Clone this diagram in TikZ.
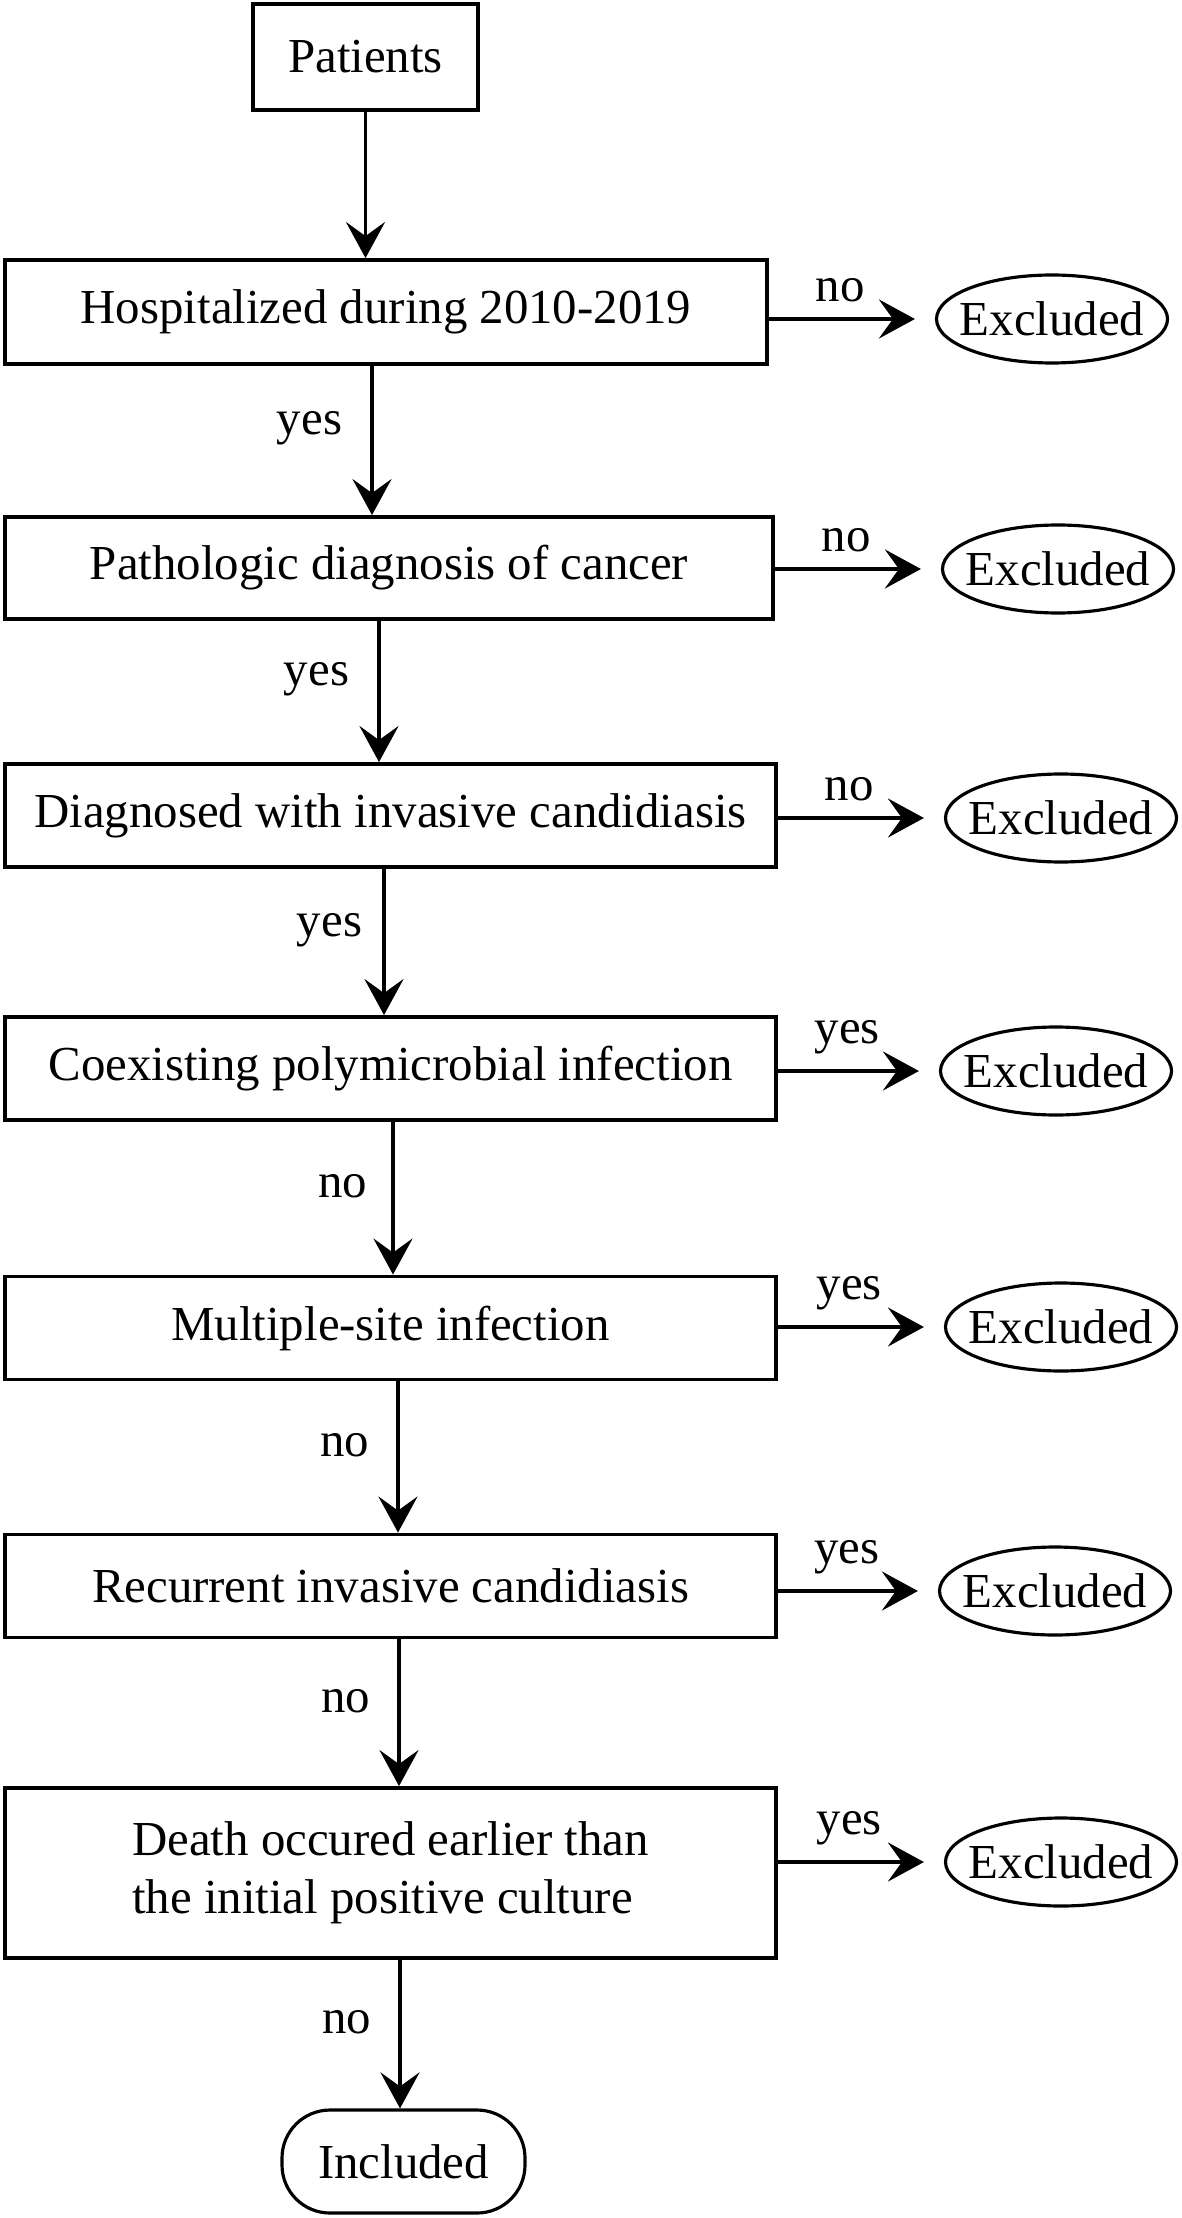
\documentclass[tikz,border=0pt]{standalone}
\usepackage{fontspec}
\setmainfont{Liberation Serif}
\usetikzlibrary{arrows.meta}
\usetikzlibrary{positioning}
\usetikzlibrary{shapes}
\tikzset{
  every node/.style={font=\fontsize{13.9}{16.5}\selectfont},
  stepbox/.style={draw, line width=1.1pt, minimum width=7.71cm, minimum height=1.03cm, inner sep=0, align=left},
  excl/.style={draw, ellipse, line width=0.9pt, minimum width=2.31cm, minimum height=0.88cm, inner xsep=-1.1mm, inner ysep=0},
  arrow/.style={-{Stealth[length=3.6mm, width=3.9mm, inset=1.4mm]}, line width=1.1pt},
  side/.style={arrow, shorten >=2mm},
  lbl/.style={inner sep=0, yshift=1.2mm},
  toplbl/.style={inner sep=0, above=1.5mm, pos=0.43}
}

\begin{document}
\begin{tikzpicture}
  \useasboundingbox (0,0) rectangle (11.81,-22.18);

  % main column
  \node[stepbox, minimum width=2.25cm, minimum height=1.06cm] (patients) at (3.655,-0.57) {Patients};
  \node[stepbox, minimum width=7.62cm, minimum height=1.04cm] (hosp) at (3.86,-3.12) {Hospitalized during 2010-2019};
  \node[stepbox, minimum width=7.68cm, minimum height=1.02cm] (patho) at (3.89,-5.68) {Pathologic diagnosis of cancer};
  \node[stepbox] (diag) at (3.905,-8.155) {Diagnosed with invasive candidiasis};
  \node[stepbox] (coex) at (3.905,-10.685) {Coexisting polymicrobial infection};
  \node[stepbox] (multi) at (3.905,-13.28) {Multiple-site infection};
  \node[stepbox] (recur) at (3.905,-15.86) {Recurrent invasive candidiasis};
  \node[stepbox, minimum height=1.70cm] (death) at (3.905,-18.73) {Death occured earlier than\\the initial positive culture};
  \node[draw, rounded corners=0.48cm, line width=0.9pt, minimum width=2.43cm, minimum height=1.03cm] (incl) at (4.035,-21.615) {Included};

  % excluded
  \node[excl] (ex1) at (10.52,-3.19) {Excluded};
  \node[excl] (ex2) at (10.58,-5.69) {Excluded};
  \node[excl] (ex3) at (10.61,-8.18) {Excluded};
  \node[excl] (ex4) at (10.56,-10.71) {Excluded};
  \node[excl] (ex5) at (10.61,-13.27) {Excluded};
  \node[excl] (ex6) at (10.55,-15.91) {Excluded};
  \node[excl] (ex7) at (10.61,-18.62) {Excluded};

  % down the column
  \draw[arrow] (patients.south) -- (patients.south |- hosp.north);
  \draw[arrow] ([xshift=-1.4mm]hosp.south) -- node[lbl, left=2.8mm] {yes} ([xshift=-1.4mm]hosp.south |- patho.north);
  \draw[arrow] ([xshift=-1mm]patho.south) -- node[lbl, left=2.8mm] {yes} ([xshift=-1mm]patho.south |- diag.north);
  \draw[arrow] ([xshift=-0.65mm]diag.south) -- node[lbl, left=2mm] {yes} ([xshift=-0.65mm]diag.south |- coex.north);
  \draw[arrow] ([xshift=0.25mm]coex.south) -- node[lbl, left=2.4mm] {no} ([xshift=0.25mm]coex.south |- multi.north);
  \draw[arrow] ([xshift=0.75mm]multi.south) -- node[lbl, left=2.7mm] {no} ([xshift=0.75mm]multi.south |- recur.north);
  \draw[arrow] ([xshift=0.85mm]recur.south) -- node[lbl, left=2.7mm] {no} ([xshift=0.85mm]recur.south |- death.north);
  \draw[arrow] ([xshift=0.95mm]death.south) -- node[lbl, left=2.7mm] {no} ([xshift=0.95mm]death.south |- incl.north);

  % out to the right
  \draw[side] (hosp.east |- ex1) -- node[toplbl] {no} (ex1);
  \draw[side] (patho.east |- ex2) -- node[toplbl] {no} (ex2);
  \draw[side] (diag.east |- ex3) -- node[toplbl] {no} (ex3);
  \draw[side] (coex.east |- ex4) -- node[toplbl] {yes} (ex4);
  \draw[side] (multi.east |- ex5) -- node[toplbl] {yes} (ex5);
  \draw[side] (recur.east |- ex6) -- node[toplbl] {yes} (ex6);
  \draw[side] (death.east |- ex7) -- node[toplbl] {yes} (ex7);
\end{tikzpicture}
\end{document}
